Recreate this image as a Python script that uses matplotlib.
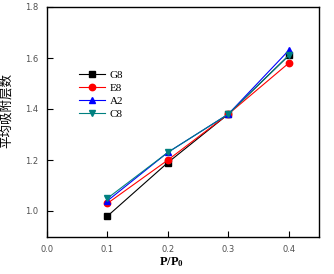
import matplotlib.pyplot as plt

plt.rcParams['font.family'] = ['DejaVu Sans']
plt.rcParams['mathtext.fontset'] = 'custom'
plt.rcParams['mathtext.rm'] = 'Liberation Serif:bold'
plt.rcParams['mathtext.it'] = 'Liberation Serif:bold'

pressure = [0.1, 0.2, 0.3, 0.4]
g8 = [0.98, 1.19, 1.38, 1.61]
e8 = [1.03, 1.20, 1.38, 1.58]
a2 = [1.04, 1.23, 1.38, 1.63]
c8 = [1.05, 1.23, 1.38, 1.61]

series = [
    ("G8", g8, "#000000", "s"),
    ("E8", e8, "#ff0000", "o"),
    ("A2", a2, "#0000ff", "^"),
    ("C8", c8, "#008080", "v"),
]

fig = plt.figure(figsize=(3.34, 2.74), dpi=100)
ax = fig.add_axes([47 / 334, 1 - 236.5 / 274, 272 / 334, 229.5 / 274])

for name, vals, col, mk in series:
    ax.plot(pressure, vals, color=col, marker=mk, markersize=4.6, lw=0.8,
            label=name)

ax.set_xlim(0, 0.45)
ax.set_ylim(0.9, 1.8)
ax.set_xticks([0.0, 0.1, 0.2, 0.3, 0.4])
ax.set_yticks([1.0, 1.2, 1.4, 1.6, 1.8])
ax.set_xticklabels(["0.0", "0.1", "0.2", "0.3", "0.4"])
ax.set_yticklabels(["1.0", "1.2", "1.4", "1.6", "1.8"])
ax.tick_params(direction="in", length=4, width=0.8, labelsize=6,
               labelcolor="#505050", pad=6)
for sp in ax.spines.values():
    sp.set_linewidth(1.0)

ax.set_xlabel("P/P$_0$", family="Liberation Serif", fontweight="bold",
              fontsize=9)
ax.xaxis.set_label_coords((171 - 47) / 272, -(255 - 236.5) / 229.5)
ax.set_ylabel("平均吸附层数", family=["Noto Sans CJK SC", "DejaVu Sans"],
              fontsize=9)
ax.yaxis.set_label_coords(-(47 - 13) / 272, (236.5 - 110) / 229.5)

leg = ax.legend(loc="upper left", bbox_to_anchor=(0.1, 0.745), frameon=False,
                prop={"family": "Liberation Serif", "size": 8},
                handlelength=2.4, handletextpad=0.4, labelspacing=0.3,
                borderaxespad=0)

fig.savefig("out.png", dpi=100)
